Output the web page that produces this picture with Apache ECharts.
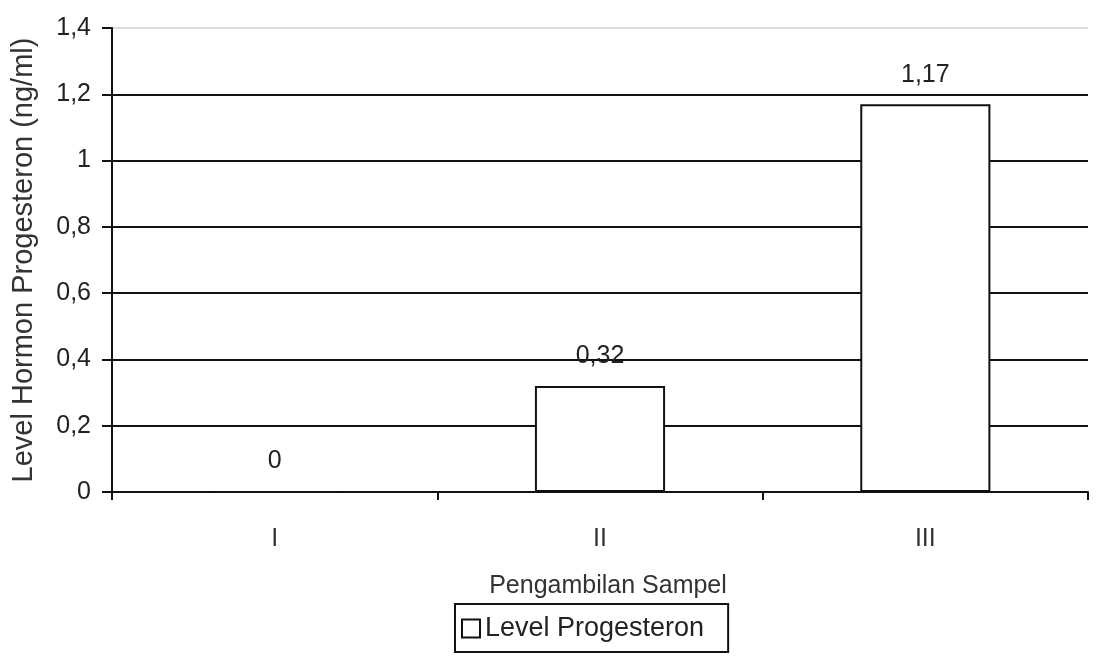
<!DOCTYPE html>
<html>
<head>
<meta charset="utf-8">
<script src="https://cdn.jsdelivr.net/npm/echarts@6/dist/echarts.min.js"></script>
<style>
  html, body { margin: 0; padding: 0; background: #fff; }
  #chart { width: 1096px; height: 663px; }
</style>
</head>
<body>
<div id="chart"></div>
<script>
// Progesterone level per sampling round
const categories = ['I', 'II', 'III'];
const progesteron = [0, 0.32, 1.17];
const valueLabels = ['0', '0,32', '1,17'];
const seriesName = 'Level Progesteron';

const FONT = '"Liberation Sans", Arial, sans-serif';
const chart = echarts.init(document.getElementById('chart'));

chart.setOption({
  animation: false,
  backgroundColor: '#fff',
  textStyle: { fontFamily: FONT, color: '#222' },
  grid: {
    left: 112, right: 8, top: 28, bottom: 171,
    containLabel: false,
    outerBoundsMode: 'none'
  },
  legend: {
    data: [{ name: seriesName, icon: 'rect' }],
    bottom: 11,
    left: 455,
    itemWidth: 18,
    itemHeight: 18,
    itemGap: 4,
    padding: [11, 24, 10, 6],
    borderColor: '#111',
    borderWidth: 2,
    textStyle: { fontSize: 27, color: '#222', fontFamily: FONT }
  },
  xAxis: {
    type: 'category',
    data: categories,
    name: 'Pengambilan Sampel',
    nameLocation: 'middle',
    nameGap: 82,
    nameTextStyle: { fontSize: 25, color: '#333', fontFamily: FONT, padding: [0, 0, 0, 16] },
    axisLine: { lineStyle: { color: '#111', width: 2 } },
    axisTick: { show: true, alignWithLabel: false, length: 8, lineStyle: { color: '#111', width: 2 } },
    axisLabel: { fontSize: 25, color: '#333', margin: 35 },
    splitLine: { show: false }
  },
  yAxis: {
    type: 'value',
    min: 0,
    max: 1.4,
    interval: 0.2,
    name: 'Level Hormon Progesteron (ng/ml)',
    nameLocation: 'middle',
    nameGap: 74,
    nameTextStyle: { fontSize: 29, color: '#333', fontFamily: FONT },
    axisLine: { show: true, lineStyle: { color: '#111', width: 2 } },
    axisTick: { show: true, length: 10, lineStyle: { color: '#111', width: 2 } },
    axisLabel: {
      fontSize: 25,
      color: '#222',
      margin: 21,
      formatter: v => String(Math.round(v * 10) / 10).replace('.', ',')
    },
    splitLine: {
      show: true,
      lineStyle: {
        color: ['#111', '#111', '#111', '#111', '#111', '#111', '#111', '#ddd'],
        width: 2
      }
    }
  },
  series: [{
    name: seriesName,
    type: 'bar',
    data: progesteron,
    barWidth: '40%',
    itemStyle: { color: '#fff', borderColor: '#111', borderWidth: 2 },
    label: {
      show: true,
      position: 'top',
      distance: 17,
      fontSize: 25,
      color: '#222',
      formatter: p => valueLabels[p.dataIndex]
    }
  }]
});
</script>
</body>
</html>
